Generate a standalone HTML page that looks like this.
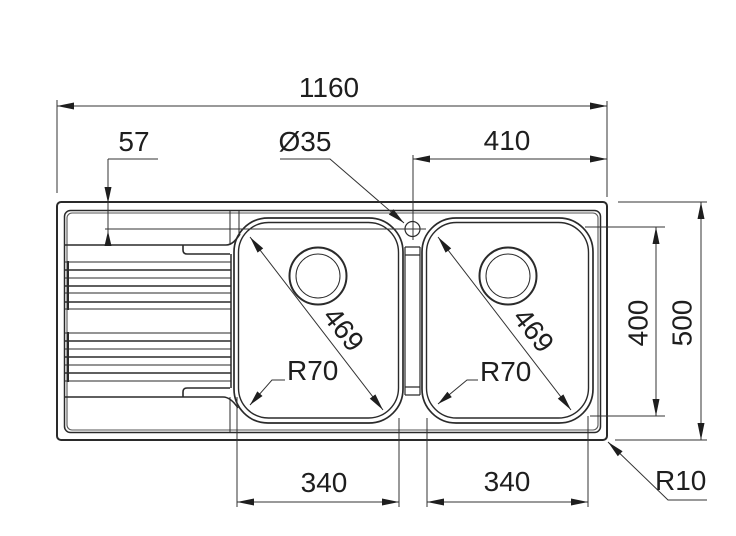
<!DOCTYPE html>
<html><head><meta charset="utf-8"><style>
html,body{margin:0;padding:0;background:#fff;}
svg{display:block;}
text{font-family:"Liberation Sans",Arial,sans-serif;font-size:28px;fill:#1e1e1e;}
</style></head><body>
<svg width="736" height="536" viewBox="0 0 736 536" xmlns="http://www.w3.org/2000/svg">
<rect width="736" height="536" fill="#fff"/>
<g fill="none" stroke="#2a2a2a" stroke-linecap="butt">
  <!-- outer sink outline -->
  <rect x="57" y="202" width="550" height="238" rx="4" stroke-width="2"/>
  <!-- inner rim double line -->
  <rect x="64.5" y="210.5" width="536" height="222" rx="6" stroke-width="1.5"/>
  <rect x="67" y="213" width="531" height="217" rx="5" stroke-width="1.1" stroke="#555"/>
  <!-- basins -->
  <rect x="234" y="218" width="169" height="205" rx="34" stroke-width="1.7"/>
  <rect x="238.5" y="222.5" width="160" height="195.5" rx="30" stroke-width="1.4"/>
  <rect x="422" y="218" width="171" height="205" rx="34" stroke-width="1.7"/>
  <rect x="426.5" y="222.5" width="162" height="195.5" rx="30" stroke-width="1.4"/>
  <!-- drains -->
  <circle cx="318" cy="276" r="28.5" stroke-width="2"/>
  <circle cx="318" cy="276" r="22" stroke-width="1"/>
  <circle cx="508" cy="276" r="28.5" stroke-width="2"/>
  <circle cx="508" cy="276" r="22" stroke-width="1"/>
  <!-- between basins -->
  <path d="M405,247 V395 M420,247 V395 M405,247 H420 M405,255 H420 M405,387 H420 M405,395 H420" stroke-width="1.2"/>
  <!-- tap hole -->
  <circle cx="412.5" cy="229" r="7.5" stroke-width="1.2"/>
  <!-- drainer ridges / tabs -->
  <path d="M65,245 H226 C232,245 236,240 240,234" stroke-width="1.6"/>
  <path d="M230,254 H187 Q183,254 183,250 V245" stroke-width="1.6"/>
  <path d="M65,397 H223 C229,397 234,402 238,408" stroke-width="1.6"/>
  <path d="M230,388 H187 Q183,388 183,392 V397" stroke-width="1.6"/>
  <path d="M231,254 V388" stroke-width="1.5"/>
  <path d="M68,261 V310 M68,332 V382" stroke-width="2"/>
  <!-- grooves -->
  <g stroke-width="0.9">
    <path d="M65,262 H231 M65,278 H231 M65,293 H231 M65,309 H231 M65,333 H231 M65,349 H231 M65,365 H231 M65,381 H231"/>
  </g>
  <g stroke-width="1.5">
    <path d="M65,270 H231 M65,286 H231 M65,302 H231 M65,341 H231 M65,357 H231 M65,373 H231"/>
  </g>
  <!-- misc vertical lines near drainer -->
  <path d="M230,211 V245 M239,211 V234 M230,397 V432" stroke-width="1"/>
</g>

<!-- dimension lines -->
<g fill="none" stroke="#333" stroke-width="1">
  <path d="M57,100 V193 M607,101 V197 M57,106 H607"/>
  <path d="M108,159 H158 M108,159 V246"/>
  <path d="M105,229 H426"/>
  <path d="M280,159 H330 L404,223"/>
  <path d="M413,155 V240 M413,159 H607"/>
  <path d="M585,227 H665 M590,416 H665 M656,227 V416"/>
  <path d="M618,202 H707 M615,440 H707 M701,202 V440"/>
  <path d="M608,442 L668,500 H707"/>
  <path d="M237,397 V507 M399,418 V507 M427,418 V507 M588,416 V507 M237,502 H399 M427,502 H588"/>
  <path d="M250,237 L383,410 M438,237 L571,410"/>
  <path d="M285,380 H272 L250,405 M478,380 H467 L438,404"/>
</g>

<!-- arrowheads -->
<g fill="#1e1e1e" stroke="none">
  <polygon points="57,106 74,102.5 74,109.5"/>
  <polygon points="607,106 590,102.5 590,109.5"/>
  <polygon points="413,159 430,155.5 430,162.5"/>
  <polygon points="607,159 590,155.5 590,162.5"/>
  <polygon points="108,203 104.5,187 111.5,187"/>
  <polygon points="108,231 104.5,246 111.5,246"/>
  <polygon points="404,223 388.8,214.5 393.4,209.2"/>
  <polygon points="250,237 257.6,252.6 263.2,248.4"/>
  <polygon points="383,410 369.8,398.6 375.4,394.4"/>
  <polygon points="438,237 445.6,252.6 451.2,248.4"/>
  <polygon points="571,410 557.8,398.6 563.4,394.4"/>
  <polygon points="250,405 257.3,391.4 262.5,396.0"/>
  <polygon points="438,404 447.4,391.7 451.8,397.1"/>
  <polygon points="608,442 617.8,456.3 622.6,451.3"/>
  <polygon points="237,502 254,498.5 254,505.5"/>
  <polygon points="399,502 382,498.5 382,505.5"/>
  <polygon points="427,502 444,498.5 444,505.5"/>
  <polygon points="588,502 571,498.5 571,505.5"/>
  <polygon points="656,227 652.5,244 659.5,244"/>
  <polygon points="656,416 652.5,399 659.5,399"/>
  <polygon points="701,202 697.5,219 704.5,219"/>
  <polygon points="701,440 697.5,423 704.5,423"/>
</g>

<!-- labels -->
<text x="329" y="97" text-anchor="middle">1160</text>
<text x="134" y="151" text-anchor="middle">57</text>
<text x="305" y="151" text-anchor="middle">Ø35</text>
<text x="507" y="150" text-anchor="middle">410</text>
<text x="324" y="492" text-anchor="middle">340</text>
<text x="507" y="491" text-anchor="middle">340</text>
<text x="287" y="380">R70</text>
<text x="480" y="381">R70</text>
<text x="655" y="490">R10</text>
<text transform="translate(637.5,323) rotate(-90)" x="0" y="10" text-anchor="middle">400</text>
<text transform="translate(681.5,323) rotate(-90)" x="0" y="10" text-anchor="middle">500</text>
<text transform="translate(344,329) rotate(52)" x="0" y="10" text-anchor="middle">469</text>
<text transform="translate(534,330) rotate(52)" x="0" y="10" text-anchor="middle">469</text>
</svg>
</body></html>
